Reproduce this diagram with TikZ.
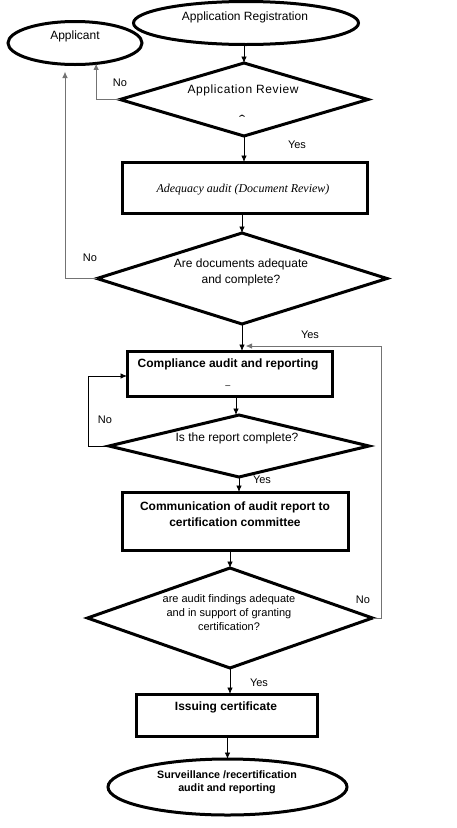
\documentclass[tikz,border=0pt]{standalone}
\usepackage{fontspec}
\setmainfont{Liberation Sans}
\newfontfamily\serifit{Liberation Serif}
\usetikzlibrary{shapes.geometric,arrows.meta,calc}
\begin{document}
\begin{tikzpicture}[x=1pt,y=-1pt,
  shp/.style={draw,line width=3pt,inner sep=0pt,outer sep=0pt},
  ell/.style={shp,ellipse},
  dia/.style={shp,diamond},
  rbox/.style={shp,rectangle},
  txt/.style={inner sep=0pt,align=center,font=\fontsize{12}{14}\selectfont},
  btxt/.style={txt,font=\fontsize{12}{16}\selectfont\bfseries},
  lbl/.style={inner sep=0pt,font=\fontsize{11}{13}\selectfont},
  arr/.style={draw=black,line width=0.8pt,-{Latex[length=6.5pt,width=5.5pt]}},
  garr/.style={draw=black!55,line width=1pt,-{Latex[length=6.5pt,width=5.5pt]}}]
\useasboundingbox (0,0) rectangle (457,828);
% shapes
\node[ell,minimum width=225pt,minimum height=43pt] (reg) at (246,23) {};
\node[ell,minimum width=134pt,minimum height=43pt] (app) at (75,43) {};
\node[dia,minimum width=248pt,minimum height=73pt] (rev) at (244,99.5) {};
\node[rbox,minimum width=245pt,minimum height=51pt] (ade) at (244.5,187.5) {};
\node[dia,minimum width=290pt,minimum height=91pt] (adq) at (242,278.5) {};
\node[rbox,minimum width=205pt,minimum height=45pt] (comp) at (229.5,373.5) {};
\node[dia,minimum width=260pt,minimum height=62pt] (rep) at (239,446) {};
\node[rbox,minimum width=226pt,minimum height=58pt] (comm) at (235,521) {};
\node[dia,minimum width=285pt,minimum height=100pt] (find) at (230,618) {};
\node[rbox,minimum width=181pt,minimum height=42pt] (iss) at (226.5,715) {};
\node[ell,minimum width=239pt,minimum height=56pt] (surv) at (227.5,787) {};
% texts
\node[txt] (regT) at (245,17) {Application Registration};
\node[txt] (appT) at (75,36) {Applicant};
\node[txt,font=\fontsize{12}{14}\selectfont\addfontfeature{LetterSpace=5}] (revT) at (243,90) {Application Review};
\node[txt,font=\fontsize{12}{14}\selectfont\serifit\itshape] (adeT) at (243,190) {Adequacy audit (Document Review)};
\node[txt,font=\fontsize{12}{16}\selectfont] (adqT) at (241,272) {Are documents adequate\\and complete?};
\node[btxt] (compT) at (228,364) {Compliance audit and reporting};
\node[txt] (repT) at (237,438) {Is the report complete?};
\node[btxt] (commT) at (235,514) {Communication of audit report to\\certification committee};
\node[txt,font=\fontsize{11}{14}\selectfont] (findT) at (229,613) {are audit findings adequate\\and in support of granting\\certification?};
\node[btxt,font=\fontsize{12}{14}\selectfont\bfseries] (issT) at (226,707) {Issuing certificate};
\node[btxt,font=\fontsize{10.7}{13}\selectfont\bfseries] (survT) at (227,782.5) {Surveillance /recertification\\audit and reporting};
% stray marks
\draw[line width=0.8pt] (239.5,116.5) .. controls (240.5,114.5) and (243.5,114.5) .. (244.5,116.5);
\node[inner sep=0pt,font=\fontsize{9}{9}\selectfont] (dash) at (228,387) {--};
% connectors
\coordinate (cx) at (236,0);
\draw[arr] (rev.north |- reg.south) -- (rev.north);
\draw[garr] (rev.west) -| (app.-44);
\node[lbl] (no1) at (120,83) {No};
\draw[arr] (rev.south) -- (rev.south |- ade.north);
\node[lbl] (yes1) at (297,145) {Yes};
\draw[arr] (adq.north |- ade.south) -- (adq.north);
\draw[garr,shorten >=7pt] (adq.west) -| ($(app.south)+(-10,0)$);
\node[lbl] (no2) at (90,258) {No};
\draw[arr] (adq.south) -- (adq.south |- comp.north);
\node[lbl] (yes2) at (310,335) {Yes};
\draw[garr] (find.east) -- ++(9,0) |- ($(comp.north)+(16,-5)$);
\node[lbl] (no4) at (363,600) {No};
\draw[arr] (comp.south -| cx) -- (cx |- rep.north);
\draw[arr] (rep.west) -- ++(-21,0) |- ($(comp.west)+(0,2.5)$);
\node[lbl] (no3) at (105,420) {No};
\draw[arr] (rep.south) -- (rep.south |- comm.north);
\node[lbl] (yes3) at (262,480) {Yes};
\draw[arr] (find.north |- comm.south) -- (find.north);
\draw[arr] (find.south) -- (find.south |- iss.north);
\node[lbl] (yes4) at (259,683) {Yes};
\draw[arr] (surv.north |- iss.south) -- (surv.north);
\end{tikzpicture}
\end{document}
